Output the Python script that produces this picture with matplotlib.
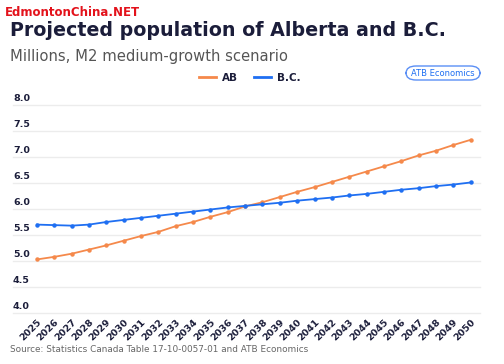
import matplotlib
matplotlib.use("Agg")
import matplotlib.pyplot as plt
import matplotlib.transforms as mtransforms
from matplotlib.patches import FancyBboxPatch

years = list(range(2025, 2051))
ab = [5.03, 5.08, 5.14, 5.22, 5.30, 5.39, 5.48, 5.56, 5.67, 5.75, 5.85, 5.94, 6.05,
      6.13, 6.23, 6.33, 6.42, 6.52, 6.62, 6.72, 6.82, 6.92, 7.03, 7.12, 7.23, 7.33]
bc = [5.70, 5.69, 5.68, 5.70, 5.75, 5.79, 5.83, 5.87, 5.91, 5.95, 5.99, 6.03, 6.06,
      6.09, 6.12, 6.16, 6.19, 6.22, 6.26, 6.29, 6.33, 6.37, 6.40, 6.44, 6.47, 6.51]
yticks = [4.0, 4.5, 5.0, 5.5, 6.0, 6.5, 7.0, 7.5, 8.0]
series_names = ["AB", "B.C."]

AB_COLOR = "#f5894b"
BC_COLOR = "#1f6ff2"
NAVY = "#1b1d3a"

fig = plt.figure(figsize=(5.04, 3.64), dpi=100)
fig.patch.set_facecolor("white")

ax = fig.add_axes([13/504, 1-313/364, (480-13)/504, (313-105)/364])
ax.plot(years, ab, color=AB_COLOR, lw=1.3, marker="o", ms=2.2, label=series_names[0])
ax.plot(years, bc, color=BC_COLOR, lw=1.3, marker="o", ms=2.2, label=series_names[1])
ax.set_xlim(2025-1.38, 2050+0.54)
ax.set_ylim(4.0, 8.0)
ax.set_yticks(yticks)
ax.yaxis.grid(True, color="#ececec", lw=1.0, clip_on=False)
ax.set_axisbelow(True)
for s in ax.spines.values():
    s.set_visible(False)
ax.tick_params(axis="y", length=0, labelleft=False)
ax.tick_params(axis="x", length=0, pad=3)
ax.set_xticks(years)
ax.set_xticklabels([str(y) for y in years], rotation=45, ha="right",
                   rotation_mode="anchor", fontsize=6.8, color=NAVY, fontweight="semibold")

trans = mtransforms.blended_transform_factory(ax.transAxes, ax.transData)
for t in yticks:
    ax.text(0.0, t + 0.04, f"{t:.1f}", transform=trans, ha="left", va="bottom",
            fontsize=6.8, color=NAVY, fontweight="semibold")

# watermark
fig.text(5/504, 1-12/364, "EdmontonChina.NET", color="#e3121b", fontsize=8.5,
         fontweight="bold", ha="left", va="center")
# title
fig.text(10/504, 1-31/364, "Projected population of Alberta and B.C.", color=NAVY,
         fontsize=13.7, fontweight="bold", ha="left", va="center")
fig.text(10/504, 1-56/364, "Millions, M2 medium-growth scenario", color="#555555",
         fontsize=10.6, ha="left", va="center")

# legend
leg = fig.legend(loc="center", bbox_to_anchor=(250/504, 1-78/364), ncol=2, frameon=False,
                 handlelength=1.6, columnspacing=1.5, handletextpad=0.6,
                 prop={"weight": "bold", "size": 7.5})
for lh in leg.get_lines():
    lh.set_marker("")
    lh.set_linewidth(2)
for txt in leg.get_texts():
    txt.set_color(NAVY)

# badge
badge = FancyBboxPatch((406/504, 1-80/364), (480-406)/504, 14/364,
                       boxstyle="round,pad=0,rounding_size=0.02",
                       transform=fig.transFigure, facecolor="white",
                       edgecolor="#5b8ff5", lw=1.0)
fig.patches.append(badge)
fig.text(443/504, 1-73/364, "ATB Economics", color=BC_COLOR, fontsize=6,
         ha="center", va="center")

fig.text(10/504, 1-350/364, "Source: Statistics Canada Table 17-10-0057-01 and ATB Economics",
         color="#666666", fontsize=6.4, ha="left", va="center")

fig.savefig("out.png", dpi=100)
